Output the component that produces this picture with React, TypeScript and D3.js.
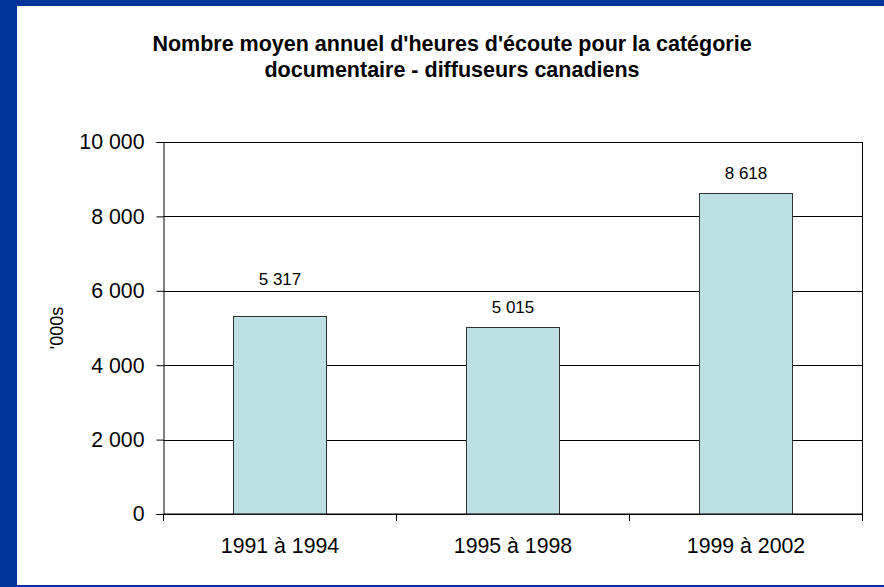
import React, { useRef, useEffect } from 'react';
import * as d3 from 'd3';

const categories = ['1991 à 1994', '1995 à 1998', '1999 à 2002'];
const values = [5317, 5015, 8618];
const yTicks = [0, 2000, 4000, 6000, 8000, 10000];
const titleLines = [
  "Nombre moyen annuel d'heures d'écoute pour la catégorie",
  'documentaire - diffuseurs canadiens',
];
const yLabel = "'000s";

const FONT = 'Arial, "Liberation Sans", sans-serif';
const fmt = (v: number) => d3.format(',')(v).replace(/,/g, ' ');

const App: React.FC = () => {
  const svgRef = useRef<SVGSVGElement>(null);

  useEffect(() => {
    if (!svgRef.current) return;
    const svg = d3.select(svgRef.current);
    svg.selectAll('*').remove();

    const W = 884, H = 587;
    const plot = { left: 163.5, right: 862.5, top: 142, bottom: 514 };

    // frame
    svg.append('rect').attr('width', W).attr('height', H).attr('fill', '#003399');
    svg.append('rect').attr('x', 17).attr('y', 6).attr('width', W - 17).attr('height', H - 8).attr('fill', '#fff');

    // title
    titleLines.forEach((t, i) => {
      svg.append('text')
        .attr('x', 452)
        .attr('y', 51 + i * 26)
        .attr('text-anchor', 'middle')
        .attr('font-family', FONT)
        .attr('font-size', '21.5px')
        .attr('font-weight', 'bold')
        .attr('fill', '#000')
        .text(t);
    });

    const x = d3.scaleBand()
      .domain(categories)
      .range([plot.left, plot.right])
      .paddingInner(0.6)
      .paddingOuter(0.3);

    const y = d3.scaleLinear().domain([0, 10000]).range([plot.bottom, plot.top]);

    // gridlines
    svg.append('g')
      .selectAll('line')
      .data(yTicks)
      .enter()
      .append('line')
      .attr('x1', plot.left)
      .attr('x2', plot.right)
      .attr('y1', d => Math.round(y(d)) + 0.5)
      .attr('y2', d => Math.round(y(d)) + 0.5)
      .attr('stroke', '#000')
      .attr('stroke-width', 1);

    // right border
    svg.append('line')
      .attr('x1', plot.right).attr('x2', plot.right)
      .attr('y1', plot.top).attr('y2', plot.bottom)
      .attr('stroke', '#000');

    // bars
    svg.append('g')
      .selectAll('rect')
      .data(values)
      .enter()
      .append('rect')
      .attr('x', (d, i) => Math.round(x(categories[i])!) + 0.5)
      .attr('width', Math.round(x.bandwidth()))
      .attr('y', d => Math.round(y(d)) + 0.5)
      .attr('height', d => Math.round(y(0)) - Math.round(y(d)))
      .attr('fill', '#BCE0E3')
      .attr('stroke', '#333')
      .attr('stroke-width', 1);

    // value labels, lifted above a gridline when they would sit on it
    svg.append('g')
      .selectAll('text')
      .data(values)
      .enter()
      .append('text')
      .attr('x', (d, i) => x(categories[i])! + x.bandwidth() / 2)
      .attr('y', d => {
        let base = y(d) - 14;
        const hit = yTicks.find(t => y(t) > base - 13 && y(t) < base + 2);
        if (hit !== undefined) base = y(hit) - 6;
        return base;
      })
      .attr('text-anchor', 'middle')
      .attr('font-family', FONT)
      .attr('font-size', '17px')
      .attr('fill', '#000')
      .text(d => fmt(d));

    // y axis
    const yAxis = d3.axisLeft(y)
      .tickValues(yTicks)
      .tickSize(7)
      .tickPadding(12)
      .tickFormat(d => fmt(d as number));

    const ya = svg.append('g')
      .attr('transform', `translate(${plot.left},0)`)
      .call(yAxis);
    ya.select('.domain').attr('stroke', '#000');
    ya.selectAll('.tick line').attr('stroke', '#000');
    ya.selectAll('.tick text')
      .attr('font-family', FONT)
      .attr('font-size', '21.3px')
      .attr('fill', '#000');

    // x axis with ticks on category boundaries
    svg.append('line')
      .attr('x1', plot.left).attr('x2', plot.right)
      .attr('y1', plot.bottom).attr('y2', plot.bottom)
      .attr('stroke', '#000');
    const step = (plot.right - plot.left) / categories.length;
    svg.append('g')
      .selectAll('line')
      .data(d3.range(categories.length + 1))
      .enter()
      .append('line')
      .attr('x1', i => plot.left + i * step)
      .attr('x2', i => plot.left + i * step)
      .attr('y1', plot.bottom)
      .attr('y2', plot.bottom + 7)
      .attr('stroke', '#000');

    svg.append('g')
      .selectAll('text')
      .data(categories)
      .enter()
      .append('text')
      .attr('x', d => x(d)! + x.bandwidth() / 2)
      .attr('y', 553)
      .attr('text-anchor', 'middle')
      .attr('font-family', FONT)
      .attr('font-size', '21.3px')
      .attr('fill', '#000')
      .text(d => d);

    // y axis title
    svg.append('text')
      .attr('transform', `translate(63,${(plot.top + plot.bottom) / 2}) rotate(-90)`)
      .attr('text-anchor', 'middle')
      .attr('font-family', FONT)
      .attr('font-size', '18px')
      .attr('fill', '#000')
      .text(yLabel);
  }, []);

  return (
    <svg
      ref={svgRef}
      width={884}
      height={587}
      style={{ position: 'absolute', left: 0, top: 0 }}
    />
  );
};

export default App;
